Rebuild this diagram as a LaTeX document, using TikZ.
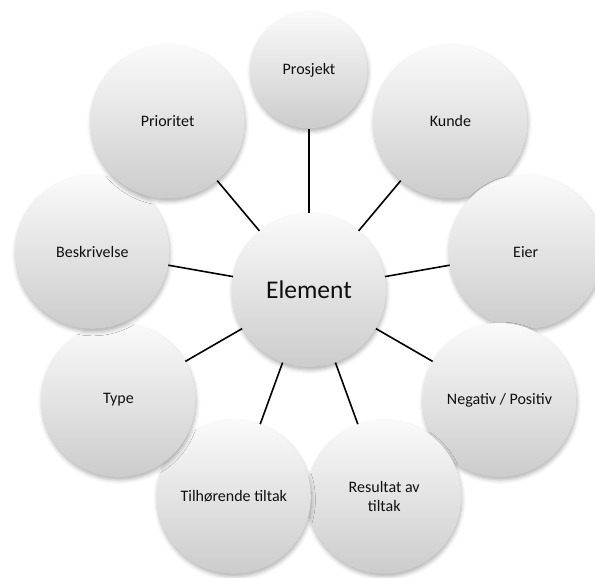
\documentclass[tikz,border=0pt]{standalone}
\usepackage{fontspec}
\setmainfont{Carlito}
\usetikzlibrary{shadows.blur}

\definecolor{balltop}{RGB}{250,250,250}
\definecolor{ballmid}{RGB}{238,238,238}
\definecolor{ballbot}{RGB}{204,204,204}
\definecolor{labeltext}{RGB}{15,15,15}

\tikzset{
  ball/.style={circle, minimum size=154pt, inner sep=0pt,
    top color=balltop, middle color=ballmid, bottom color=ballbot,
    blur shadow={shadow xshift=0.6pt, shadow yshift=-3pt,
      shadow blur radius=4pt, shadow opacity=30},
    font=\fontsize{16}{19}\selectfont, align=center, text=labeltext},
  smallball/.style={ball, minimum size=117pt},
  hubball/.style={ball, font=\fontsize{25.5}{30}\selectfont},
  spoke/.style={line width=1.6pt, black},
}

\begin{document}
\begin{tikzpicture}[x=1pt,y=-1pt]
\useasboundingbox (0,0) rectangle (595,578);

% outer ring, clockwise from the top
\node[smallball] (prosjekt) at (309,70) {Prosjekt};
\node[ball] (kunde) at (450.4,121.5) {Kunde};
\node[ball] (eier) at (525.7,251.8) {Eier};
\node[ball] (negpos) at (499.5,400) {Negativ / Positiv};
\node[ball] (resultat) at (384.2,496.7) {Resultat av\\tiltak};
\node[ball] (tilhorende) at (233.8,496.7) {Tilhørende tiltak};
\node[ball] (type) at (118.5,400) {Type};
\node[ball] (beskrivelse) at (92.3,251.8) {Beskrivelse};
\node[ball] (prioritet) at (167.6,121.5) {Prioritet};

% hub
\node[hubball] (element) at (309,290) {Element};

% spokes between hub and ring
\foreach \n in {prosjekt,kunde,eier,negpos,resultat,tilhorende,type,beskrivelse,prioritet}
  \draw[spoke] (element) -- (\n);
\end{tikzpicture}
\end{document}
